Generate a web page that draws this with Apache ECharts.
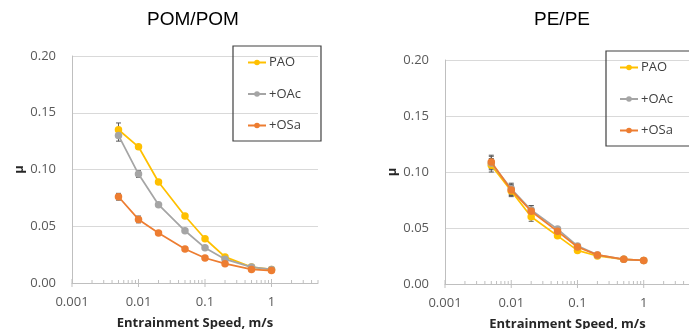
<!DOCTYPE html>
<html>
<head>
<meta charset="utf-8">
<script src="https://cdn.jsdelivr.net/npm/echarts@6/dist/echarts.min.js"></script>
<style>
html,body{margin:0;padding:0;background:#fff;}
#chart{width:689px;height:329px;}
</style>
</head>
<body>
<div id="chart"></div>
<script>
// ---- data ----
const speeds = [0.005, 0.01, 0.02, 0.05, 0.1, 0.2, 0.5, 1];
const seriesNames = ['PAO', '+OAc', '+OSa'];
const panelTitles = ['POM/POM', 'PE/PE'];

const pomPAO = [0.135, 0.120, 0.089, 0.059, 0.039, 0.023, 0.014, 0.012];
const pomOAc = [0.130, 0.096, 0.069, 0.046, 0.031, 0.021, 0.014, 0.012];
const pomOSa = [0.076, 0.056, 0.044, 0.030, 0.022, 0.017, 0.012, 0.011];
const pomPAOErr = [0.006, 0.002, 0.002, 0.0, 0.0, 0.0, 0.0, 0.0];
const pomOAcErr = [0.005, 0.003, 0.0, 0.0, 0.0, 0.0, 0.0, 0.0];
const pomOSaErr = [0.003, 0.003, 0.002, 0.0, 0.0, 0.0, 0.0, 0.0];

const pePAO = [0.106, 0.083, 0.060, 0.043, 0.030, 0.025, 0.022, 0.021];
const peOAc = [0.108, 0.085, 0.066, 0.049, 0.034, 0.026, 0.022, 0.021];
const peOSa = [0.109, 0.084, 0.065, 0.047, 0.033, 0.026, 0.022, 0.021];
const pePAOErr = [0.006, 0.005, 0.004, 0.0, 0.0, 0.0, 0.0, 0.0];
const peOAcErr = [0.006, 0.005, 0.004, 0.0, 0.0, 0.0, 0.0, 0.0];
const peOSaErr = [0.006, 0.005, 0.005, 0.0, 0.0, 0.0, 0.0, 0.0];

const xMajorTicks = [0.001, 0.01, 0.1, 1];
const xMinorTicks = [0.002,0.003,0.004,0.005,0.006,0.007,0.008,0.009,
  0.02,0.03,0.04,0.05,0.06,0.07,0.08,0.09,
  0.2,0.3,0.4,0.5,0.6,0.7,0.8,0.9, 2,3,4,5];

const colors = ['#FFC000', '#A5A5A5', '#ED7D31'];
const FONT = '"Open Sans", "Liberation Sans", sans-serif';

const panels = [
  {vals: [pomPAO, pomOAc, pomOSa], errs: [pomPAOErr, pomOAcErr, pomOSaErr]},
  {vals: [pePAO, peOAc, peOSa], errs: [pePAOErr, peOAcErr, peOSaErr]}
];

const grids = [
  {left: 72, top: 56, width: 246, height: 227, outerBoundsMode: 'none', containLabel: false},
  {left: 445, top: 60, width: 245, height: 224, outerBoundsMode: 'none', containLabel: false}
];

function xAxisFor(i) {
  return {
    type: 'log', logBase: 10, gridIndex: i, min: 0.001, max: 5,
    axisLine: {show: true, lineStyle: {color: '#BFBFBF', width: 1}},
    axisTick: {show: false},
    splitLine: {show: false},
    axisLabel: {
      color: '#595959', fontSize: 13, fontFamily: FONT, margin: 13,
      showMaxLabel: false,
      formatter: v => String(+(+v).toPrecision(3))
    },
    name: 'Entrainment Speed, m/s', nameLocation: 'middle', nameGap: 34,
    nameTextStyle: {fontSize: 13, fontWeight: 'bold', color: '#262626', fontFamily: FONT}
  };
}
function yAxisFor(i) {
  return {
    type: 'value', gridIndex: i, min: 0, max: 0.2, interval: 0.05,
    axisLine: {show: true, lineStyle: {color: '#BFBFBF', width: 1}},
    axisTick: {show: false},
    splitLine: {show: true, lineStyle: {color: '#D9D9D9', width: 1}},
    axisLabel: {color: '#595959', fontSize: 13, fontFamily: FONT, margin: 16,
      formatter: v => v.toFixed(2)},
    name: 'μ', nameLocation: 'middle', nameGap: 46, nameRotate: 90,
    nameTextStyle: {fontSize: 13, fontWeight: 'bold', color: '#262626', fontFamily: FONT}
  };
}

const series = [];
panels.forEach((p, pi) => {
  p.vals.forEach((vals, si) => {
    series.push({
      name: 'err' + pi + si, type: 'custom', xAxisIndex: pi, yAxisIndex: pi,
      data: speeds.map((x, k) => [x, vals[k] - p.errs[si][k], vals[k] + p.errs[si][k]]),
      silent: true, z: 2,
      renderItem: (params, api) => {
        const lo = api.coord([api.value(0), api.value(1)]);
        const hi = api.coord([api.value(0), api.value(2)]);
        if (Math.abs(lo[1] - hi[1]) < 1) return null;
        const w = 2.5;
        const st = {stroke: '#595959', lineWidth: 1};
        return {type: 'group', children: [
          {type: 'line', shape: {x1: lo[0], y1: lo[1], x2: hi[0], y2: hi[1]}, style: st},
          {type: 'line', shape: {x1: lo[0]-w, y1: lo[1], x2: lo[0]+w, y2: lo[1]}, style: st},
          {type: 'line', shape: {x1: hi[0]-w, y1: hi[1], x2: hi[0]+w, y2: hi[1]}, style: st}
        ]};
      }
    });
  });
  p.vals.forEach((vals, si) => {
    series.push({
      name: seriesNames[si], type: 'line', xAxisIndex: pi, yAxisIndex: pi,
      data: speeds.map((x, k) => [x, vals[k]]),
      symbol: 'circle', symbolSize: 7.5,
      lineStyle: {color: colors[si], width: 1.75},
      itemStyle: {color: colors[si]},
      z: 3 + si
    });
  });
  // axis ticks (Excel-style log minor ticks)
  series.push({
    name: 'majorTicks' + pi, type: 'custom', xAxisIndex: pi, yAxisIndex: pi,
    data: xMajorTicks.map(v => [v, 0]), silent: true, clip: false, z: 1,
    renderItem: (params, api) => {
      const c = api.coord([api.value(0), 0]);
      return {type: 'line', shape: {x1: c[0], y1: c[1] - 4, x2: c[0], y2: c[1] + 4},
        style: {stroke: '#BFBFBF', lineWidth: 1}};
    }
  });
  series.push({
    name: 'minorTicks' + pi, type: 'custom', xAxisIndex: pi, yAxisIndex: pi,
    data: xMinorTicks.map(v => [v, 0]), silent: true, clip: false, z: 1,
    renderItem: (params, api) => {
      const c = api.coord([api.value(0), 0]);
      return {type: 'line', shape: {x1: c[0], y1: c[1] - 3, x2: c[0], y2: c[1]},
        style: {stroke: '#BFBFBF', lineWidth: 1}};
    }
  });
});

const legendCommon = {
  orient: 'vertical', data: seriesNames,
  itemWidth: 18, itemHeight: 7, itemGap: 18.5,
  borderColor: '#404040', borderWidth: 1.2,
  textStyle: {color: '#404040', fontSize: 13, fontFamily: FONT, padding: [0, 0, 0, -2]},
  selectedMode: false
};

const option = {
  backgroundColor: '#fff',
  animation: false,
  title: [
    {text: panelTitles[0], left: 193, top: 10, textAlign: 'center', padding: 0,
      textStyle: {fontSize: 19, fontWeight: 'normal', color: '#000', fontFamily: '"Liberation Sans", Arial, sans-serif'}},
    {text: panelTitles[1], left: 562, top: 10, textAlign: 'center', padding: 0,
      textStyle: {fontSize: 19, fontWeight: 'normal', color: '#000', fontFamily: '"Liberation Sans", Arial, sans-serif'}}
  ],
  legend: [
    Object.assign({left: 233, top: 46, padding: [10, 20, 9, 14]}, legendCommon),
    Object.assign({left: 606, top: 51, padding: [10, 30, 9, 13]}, legendCommon)
  ],
  grid: grids,
  xAxis: [xAxisFor(0), xAxisFor(1)],
  yAxis: [yAxisFor(0), yAxisFor(1)],
  series: series
};

const chart = echarts.init(document.getElementById('chart'), null, {renderer: 'canvas'});
chart.setOption(option);
</script>
</body>
</html>
